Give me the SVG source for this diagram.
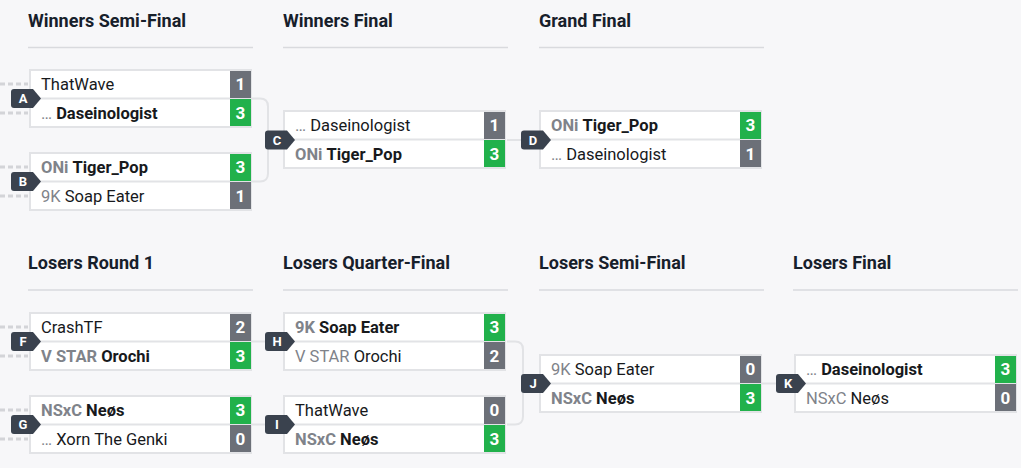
<svg xmlns="http://www.w3.org/2000/svg" width="1021" height="468" viewBox="0 0 1021 468">
<style>
.bg{fill:#f7f7f9}
.hd{font-family:Roboto,"Liberation Sans",sans-serif;font-weight:700;font-size:18px;fill:#17202b}
.hl{stroke:#d9dade;stroke-width:1.5}
.box{fill:#fff;stroke:#e2e3e6;stroke-width:2}
.div{stroke:#e2e3e6;stroke-width:2}
.t{font-family:Roboto,"Liberation Sans",sans-serif;font-size:16.5px;fill:#17191c}
.b{font-weight:700}
.p{fill:#7f838a}
.win{fill:#21b14b}
.lose{fill:#6c7078}
.sc{font-family:Roboto,"Liberation Sans",sans-serif;font-size:17px;font-weight:700;fill:#fff;text-anchor:middle}
.bd{fill:#3a424e}
.bl{font-family:Roboto,"Liberation Sans",sans-serif;font-size:13px;font-weight:700;fill:#fff;text-anchor:middle}
.cn{fill:none;stroke:#e2e3e6;stroke-width:2}
.ds{fill:none;stroke:#d3d4d8;stroke-width:3;stroke-dasharray:5 3}
</style>
<defs>
<g id="badge"><path class="bd" d="M-15,-9.5 H4 L12,0 L4,9.5 H-15 Q-18,9.5 -18,6.5 V-6.5 Q-18,-9.5 -15,-9.5 Z"/></g>
</defs>
<rect class="bg" x="0" y="0" width="1021" height="468"/>

<g id="headers">
<text class="hd" x="28" y="26.5">Winners Semi-Final</text>
<line class="hl" x1="28" y1="47.5" x2="253" y2="47.5"/>
<text class="hd" x="283" y="26.5">Winners Final</text>
<line class="hl" x1="283" y1="47.5" x2="508" y2="47.5"/>
<text class="hd" x="539" y="26.5">Grand Final</text>
<line class="hl" x1="539" y1="47.5" x2="764" y2="47.5"/>
<text class="hd" x="28" y="269">Losers Round 1</text>
<line class="hl" x1="28" y1="290" x2="253" y2="290"/>
<text class="hd" x="283" y="269">Losers Quarter-Final</text>
<line class="hl" x1="283" y1="290" x2="508" y2="290"/>
<text class="hd" x="539" y="269">Losers Semi-Final</text>
<line class="hl" x1="539" y1="290" x2="764" y2="290"/>
<text class="hd" x="793" y="269">Losers Final</text>
<line class="hl" x1="793" y1="290" x2="1018" y2="290"/>
</g>

<g id="connectors">
<path class="ds" d="M0,84 H28 M0,113 H28 M0,167 H28 M0,196 H28 M0,327 H28 M0,356 H28 M0,410 H28 M0,439 H28"/>
<path class="cn" d="M252,98.5 H260 Q268,98.5 268,106.5 V173.5 Q268,181.5 260,181.5 H252"/>
<path class="cn" d="M507,140 H522"/>
<path class="cn" d="M252,341.5 H267"/>
<path class="cn" d="M252,424.5 H267"/>
<path class="cn" d="M507,341.5 H515 Q523,341.5 523,349.5 V416.5 Q523,424.5 515,424.5 H507"/>
<path class="cn" d="M762,383.5 H777"/>
</g>

<g id="match-A" transform="translate(29,69)">
<rect class="box" x="1" y="1" width="221" height="57"/>
<line class="div" x1="0" y1="29.5" x2="223" y2="29.5"/>
<rect class="lose" x="201" y="2" width="21" height="27"/>
<rect class="win" x="201" y="30" width="21" height="27"/>
<text class="t" x="12" y="21">ThatWave</text>
<text class="t" x="12" y="50"><tspan class="p">…</tspan> <tspan class="b">Daseinologist</tspan></text>
<text class="sc" x="211.5" y="21">1</text>
<text class="sc" x="211.5" y="50">3</text>
<use href="#badge" y="29.5"/><text class="bl" x="-6" y="34">A</text>
</g>

<g id="match-B" transform="translate(29,152)">
<rect class="box" x="1" y="1" width="221" height="57"/>
<line class="div" x1="0" y1="29.5" x2="223" y2="29.5"/>
<rect class="win" x="201" y="2" width="21" height="27"/>
<rect class="lose" x="201" y="30" width="21" height="27"/>
<text class="t" x="12" y="21"><tspan class="p b">ONi</tspan> <tspan class="b">Tiger_Pop</tspan></text>
<text class="t" x="12" y="50"><tspan class="p">9K</tspan> Soap Eater</text>
<text class="sc" x="211.5" y="21">3</text>
<text class="sc" x="211.5" y="50">1</text>
<use href="#badge" y="29.5"/><text class="bl" x="-6" y="34">B</text>
</g>

<g id="match-C" transform="translate(283,110)">
<rect class="box" x="1" y="1" width="221" height="57"/>
<line class="div" x1="0" y1="29.5" x2="223" y2="29.5"/>
<rect class="lose" x="201" y="2" width="21" height="27"/>
<rect class="win" x="201" y="30" width="21" height="27"/>
<text class="t" x="12" y="21"><tspan class="p">…</tspan> Daseinologist</text>
<text class="t" x="12" y="50"><tspan class="p b">ONi</tspan> <tspan class="b">Tiger_Pop</tspan></text>
<text class="sc" x="211.5" y="21">1</text>
<text class="sc" x="211.5" y="50">3</text>
<use href="#badge" y="30"/><text class="bl" x="-6" y="34.5">C</text>
</g>

<g id="match-D" transform="translate(539,110)">
<rect class="box" x="1" y="1" width="221" height="57"/>
<line class="div" x1="0" y1="29.5" x2="223" y2="29.5"/>
<rect class="win" x="201" y="2" width="21" height="27"/>
<rect class="lose" x="201" y="30" width="21" height="27"/>
<text class="t" x="12" y="21"><tspan class="p b">ONi</tspan> <tspan class="b">Tiger_Pop</tspan></text>
<text class="t" x="12" y="50"><tspan class="p">…</tspan> Daseinologist</text>
<text class="sc" x="211.5" y="21">3</text>
<text class="sc" x="211.5" y="50">1</text>
<use href="#badge" y="30"/><text class="bl" x="-6" y="34.5">D</text>
</g>

<g id="match-F" transform="translate(29,312)">
<rect class="box" x="1" y="1" width="221" height="57"/>
<line class="div" x1="0" y1="29.5" x2="223" y2="29.5"/>
<rect class="lose" x="201" y="2" width="21" height="27"/>
<rect class="win" x="201" y="30" width="21" height="27"/>
<text class="t" x="12" y="21">CrashTF</text>
<text class="t" x="12" y="50"><tspan class="p b">V STAR</tspan> <tspan class="b">Orochi</tspan></text>
<text class="sc" x="211.5" y="21">2</text>
<text class="sc" x="211.5" y="50">3</text>
<use href="#badge" y="29.5"/><text class="bl" x="-6" y="34">F</text>
</g>

<g id="match-G" transform="translate(29,395)">
<rect class="box" x="1" y="1" width="221" height="57"/>
<line class="div" x1="0" y1="29.5" x2="223" y2="29.5"/>
<rect class="win" x="201" y="2" width="21" height="27"/>
<rect class="lose" x="201" y="30" width="21" height="27"/>
<text class="t" x="12" y="21"><tspan class="p b">NSxC</tspan> <tspan class="b">Neøs</tspan></text>
<text class="t" x="12" y="50"><tspan class="p">…</tspan> Xorn The Genki</text>
<text class="sc" x="211.5" y="21">3</text>
<text class="sc" x="211.5" y="50">0</text>
<use href="#badge" y="29.5"/><text class="bl" x="-6" y="34">G</text>
</g>

<g id="match-H" transform="translate(283,312)">
<rect class="box" x="1" y="1" width="221" height="57"/>
<line class="div" x1="0" y1="29.5" x2="223" y2="29.5"/>
<rect class="win" x="201" y="2" width="21" height="27"/>
<rect class="lose" x="201" y="30" width="21" height="27"/>
<text class="t" x="12" y="21"><tspan class="p b">9K</tspan> <tspan class="b">Soap Eater</tspan></text>
<text class="t" x="12" y="50"><tspan class="p">V STAR</tspan> Orochi</text>
<text class="sc" x="211.5" y="21">3</text>
<text class="sc" x="211.5" y="50">2</text>
<use href="#badge" y="29.5"/><text class="bl" x="-6" y="34">H</text>
</g>

<g id="match-I" transform="translate(283,395)">
<rect class="box" x="1" y="1" width="221" height="57"/>
<line class="div" x1="0" y1="29.5" x2="223" y2="29.5"/>
<rect class="lose" x="201" y="2" width="21" height="27"/>
<rect class="win" x="201" y="30" width="21" height="27"/>
<text class="t" x="12" y="21">ThatWave</text>
<text class="t" x="12" y="50"><tspan class="p b">NSxC</tspan> <tspan class="b">Neøs</tspan></text>
<text class="sc" x="211.5" y="21">0</text>
<text class="sc" x="211.5" y="50">3</text>
<use href="#badge" y="29.5"/><text class="bl" x="-6" y="34">I</text>
</g>

<g id="match-J" transform="translate(539,354)">
<rect class="box" x="1" y="1" width="221" height="57"/>
<line class="div" x1="0" y1="29.5" x2="223" y2="29.5"/>
<rect class="lose" x="201" y="2" width="21" height="27"/>
<rect class="win" x="201" y="30" width="21" height="27"/>
<text class="t" x="12" y="21"><tspan class="p">9K</tspan> Soap Eater</text>
<text class="t" x="12" y="50"><tspan class="p b">NSxC</tspan> <tspan class="b">Neøs</tspan></text>
<text class="sc" x="211.5" y="21">0</text>
<text class="sc" x="211.5" y="50">3</text>
<use href="#badge" y="29.5"/><text class="bl" x="-6" y="34">J</text>
</g>

<g id="match-K" transform="translate(794,354)">
<rect class="box" x="1" y="1" width="221" height="57"/>
<line class="div" x1="0" y1="29.5" x2="223" y2="29.5"/>
<rect class="win" x="201" y="2" width="21" height="27"/>
<rect class="lose" x="201" y="30" width="21" height="27"/>
<text class="t" x="12" y="21"><tspan class="p">…</tspan> <tspan class="b">Daseinologist</tspan></text>
<text class="t" x="12" y="50"><tspan class="p">NSxC</tspan> Neøs</text>
<text class="sc" x="211.5" y="21">3</text>
<text class="sc" x="211.5" y="50">0</text>
<use href="#badge" y="29.5"/><text class="bl" x="-6" y="34">K</text>
</g>
</svg>
